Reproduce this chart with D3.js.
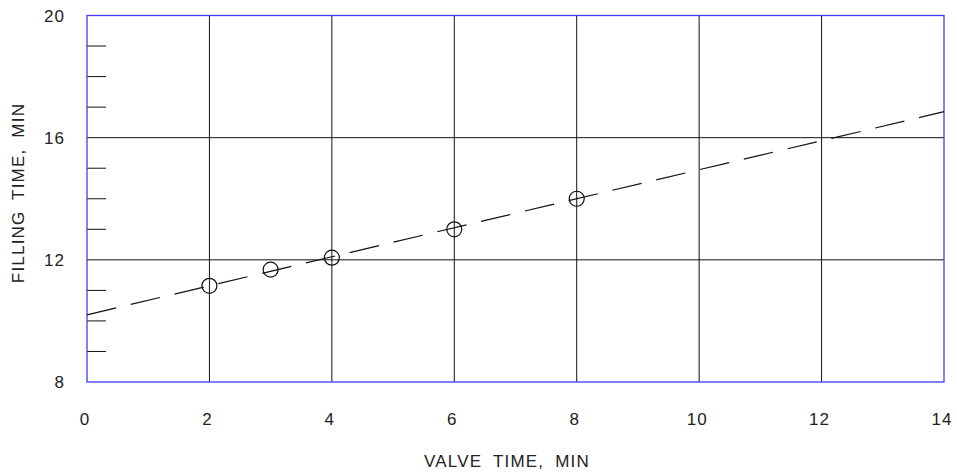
<!DOCTYPE html>
<html>
<head>
<meta charset="utf-8">
<script src="https://cdn.jsdelivr.net/npm/d3@7"></script>
<style>
  html, body { margin: 0; padding: 0; background: #fff; }
  svg text { font-family: "Liberation Sans", Arial, sans-serif; fill: #222; }
</style>
</head>
<body>
<svg id="chart" width="957" height="476"></svg>
<script>
// Measured points: valve time (min) vs filling time (min)
const valveTime   = [2, 3, 4, 6, 8];
const fillingTime = [11.15, 11.68, 12.07, 13.0, 14.0];

// Fitted trend line endpoints
const fitX = [0, 14];
const fitY = [10.2, 16.85];

// Axis ticks
const xTicks      = [0, 2, 4, 6, 8, 10, 12, 14];
const yTicks      = [8, 12, 16, 20];
const yMinorTicks = [9, 10, 11, 13, 14, 15, 17, 18, 19];
const xGrid       = [2, 4, 6, 8, 10, 12];
const yGrid       = [12, 16];

const svg = d3.select("#chart");
const plotLeft = 87, plotRight = 944, plotTop = 15.5, plotBottom = 382;

const x = d3.scaleLinear().domain([0, 14]).range([plotLeft, plotRight]);
const y = d3.scaleLinear().domain([8, 20]).range([plotBottom, plotTop]);

// Grid lines
svg.append("g").selectAll("line").data(xGrid).join("line")
  .attr("x1", d => x(d)).attr("x2", d => x(d))
  .attr("y1", plotTop).attr("y2", plotBottom)
  .attr("stroke", "#111").attr("stroke-width", 1);
svg.append("g").selectAll("line").data(yGrid).join("line")
  .attr("x1", plotLeft).attr("x2", plotRight)
  .attr("y1", d => y(d)).attr("y2", d => y(d))
  .attr("stroke", "#111").attr("stroke-width", 1);

// Minor ticks on left edge
svg.append("g").selectAll("line").data(yMinorTicks).join("line")
  .attr("x1", plotLeft).attr("x2", plotLeft + 19)
  .attr("y1", d => y(d)).attr("y2", d => y(d))
  .attr("stroke", "#111").attr("stroke-width", 1);

// Frame
svg.append("rect")
  .attr("x", plotLeft).attr("y", plotTop)
  .attr("width", plotRight - plotLeft).attr("height", plotBottom - plotTop)
  .attr("fill", "none").attr("stroke", "#3b3bff").attr("stroke-width", 1.3);

// Dashed fit line
svg.append("path")
  .datum(d3.zip(fitX, fitY))
  .attr("d", d3.line().x(d => x(d[0])).y(d => y(d[1])))
  .attr("fill", "none").attr("stroke", "#111").attr("stroke-width", 1.2)
  .attr("stroke-dasharray", "30,15");

// Data circles
svg.append("g").selectAll("circle").data(d3.zip(valveTime, fillingTime)).join("circle")
  .attr("cx", d => x(d[0])).attr("cy", d => y(d[1]))
  .attr("r", 7.5)
  .attr("fill", "none").attr("stroke", "#111").attr("stroke-width", 1.2);

// Tick labels
svg.append("g").selectAll("text").data(xTicks).join("text")
  .attr("x", d => x(d) - 2).attr("y", 425)
  .attr("text-anchor", "middle").attr("font-size", 17)
  .attr("letter-spacing", 1)
  .text(d => d);
svg.append("g").selectAll("text").data(yTicks).join("text")
  .attr("x", 65).attr("y", d => y(d) + 6)
  .attr("text-anchor", "end").attr("font-size", 17)
  .attr("letter-spacing", 1)
  .text(d => d);

// Axis titles
svg.append("text")
  .attr("x", 507).attr("y", 467)
  .attr("text-anchor", "middle").attr("font-size", 17)
  .attr("letter-spacing", 1.2).attr("word-spacing", 5)
  .text("VALVE TIME, MIN");
svg.append("text")
  .attr("transform", "translate(24,193) rotate(-90)")
  .attr("text-anchor", "middle").attr("font-size", 17)
  .attr("letter-spacing", 1.2).attr("word-spacing", 5)
  .text("FILLING TIME, MIN");
</script>
</body>
</html>
